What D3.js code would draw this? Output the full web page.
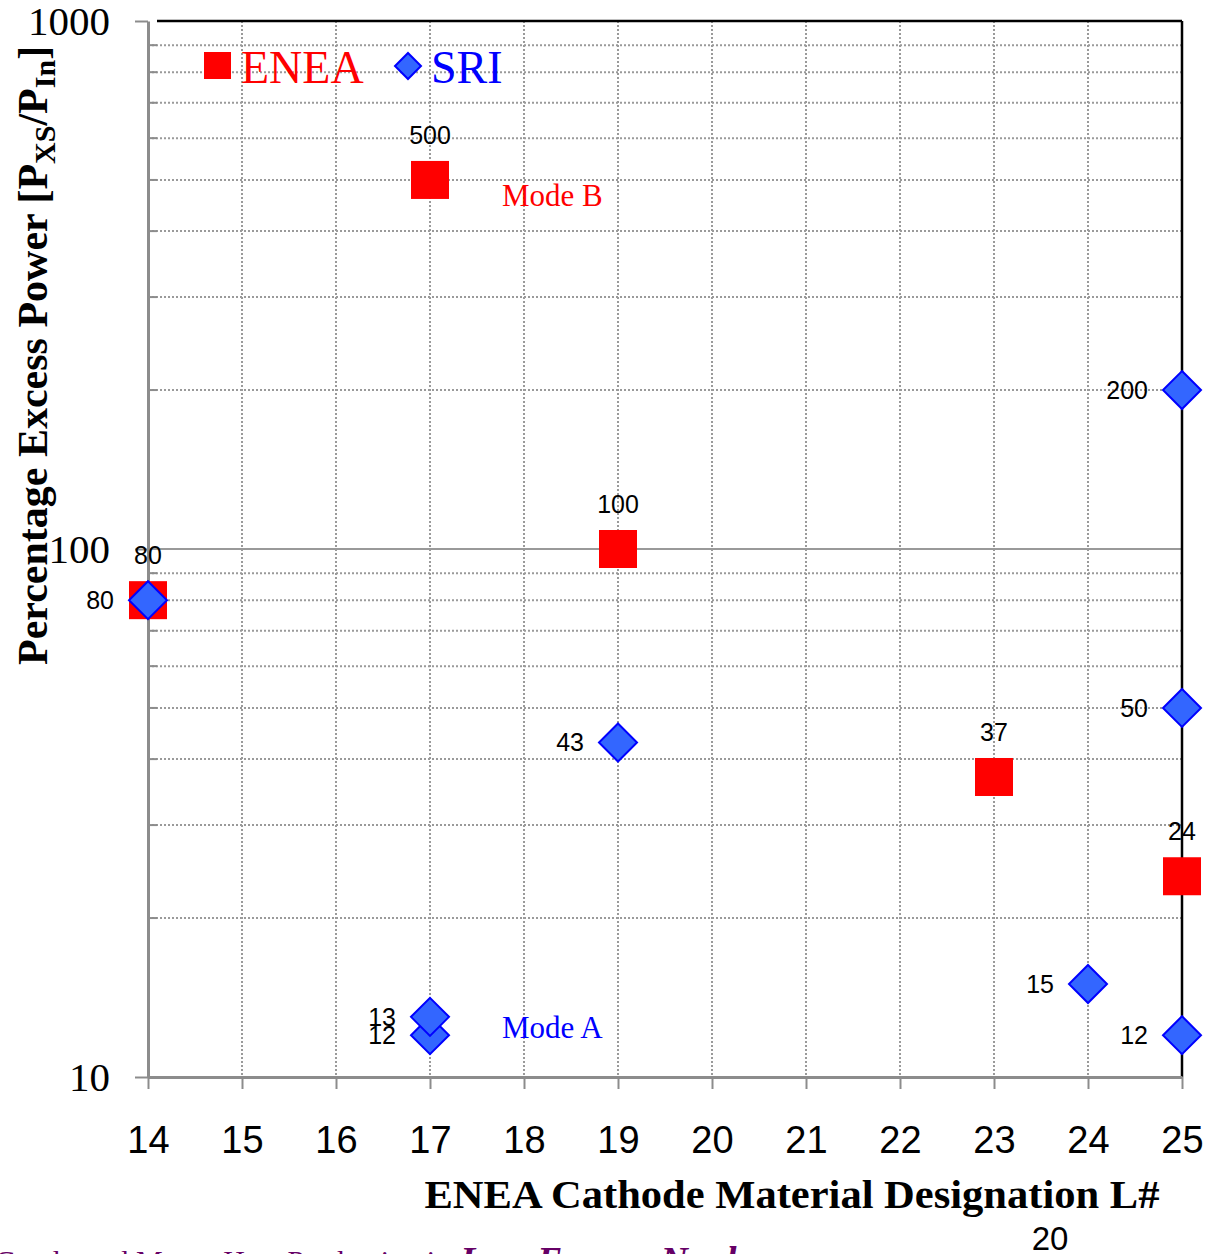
<!DOCTYPE html>
<html>
<head>
<meta charset="utf-8">
<script src="https://cdn.jsdelivr.net/npm/d3@7"></script>
<style>
  html, body { margin: 0; padding: 0; background: #fff; }
  svg { display: block; }
</style>
</head>
<body>
<svg id="chart" width="1209" height="1254"></svg>
<script>
// Cathode designations on the x axis
const xTicks = [14, 15, 16, 17, 18, 19, 20, 21, 22, 23, 24, 25];
const yMajor = [10, 100, 1000];
const yMinor = [20, 30, 40, 50, 60, 70, 80, 90, 200, 300, 400, 500, 600, 700, 800, 900];

// ENEA results (squares)
const eneaL = [14, 17, 19, 23, 25];
const eneaPct = [80, 500, 100, 37, 24];

// SRI results (diamonds)
const sriL = [14, 17, 17, 19, 24, 25, 25, 25];
const sriPct = [80, 12, 13, 43, 15, 12, 50, 200];

const svg = d3.select("#chart");
const plotL = 148, plotR = 1182, plotT = 21, plotB = 1077;

const x = d3.scaleLinear().domain([14, 25]).range([plotL, plotR]);
const y = d3.scaleLog().domain([10, 1000]).range([plotB, plotT]);

const serif = "'Liberation Serif', 'Times New Roman', serif";
const sans = "'Liberation Sans', Arial, sans-serif";

// dotted grid
const grid = svg.append("g");
grid.selectAll("line.vg").data(xTicks.filter(d => d > 14 && d < 25)).join("line")
  .attr("x1", d => x(d)).attr("x2", d => x(d))
  .attr("y1", plotT).attr("y2", plotB)
  .attr("stroke", "#9a9a9a").attr("stroke-width", 2).attr("stroke-dasharray", "2,2");
grid.selectAll("line.hg").data(yMinor).join("line")
  .attr("x1", plotL).attr("x2", plotR)
  .attr("y1", d => y(d)).attr("y2", d => y(d))
  .attr("stroke", "#9a9a9a").attr("stroke-width", 2).attr("stroke-dasharray", "2,2");
// inner minor ticks
svg.append("g").selectAll("line").data(yMinor).join("line")
  .attr("x1", plotL).attr("x2", plotL + 9)
  .attr("y1", d => y(d)).attr("y2", d => y(d))
  .attr("stroke", "#8c8c8c").attr("stroke-width", 2);
// solid line at 100
svg.append("line").attr("x1", plotL).attr("x2", plotR)
  .attr("y1", y(100)).attr("y2", y(100))
  .attr("stroke", "#999").attr("stroke-width", 2);

// frame: black top and right edges
svg.append("line").attr("x1", plotL + 9).attr("x2", plotR)
  .attr("y1", plotT).attr("y2", plotT).attr("stroke", "#000").attr("stroke-width", 2.5);
svg.append("line").attr("x1", plotR).attr("x2", plotR)
  .attr("y1", plotT).attr("y2", plotB).attr("stroke", "#000").attr("stroke-width", 2.5);

// x axis
const xAxis = svg.append("g").attr("transform", `translate(0,${plotB})`)
  .call(d3.axisBottom(x).tickValues(xTicks).tickSize(12).tickPadding(37).tickSizeOuter(0));
xAxis.select(".domain").attr("stroke", "#8c8c8c").attr("stroke-width", 3);
xAxis.selectAll(".tick line").attr("stroke", "#8c8c8c").attr("stroke-width", 2);
xAxis.selectAll(".tick text").attr("font-family", sans).attr("font-size", 38).attr("fill", "#000");

// y axis
const yAxis = svg.append("g").attr("transform", `translate(${plotL},0)`)
  .call(d3.axisLeft(y).tickValues(yMajor).tickFormat(d3.format("d")).tickSize(13).tickPadding(25).tickSizeOuter(0));
yAxis.select(".domain").attr("stroke", "#8c8c8c").attr("stroke-width", 3);
yAxis.selectAll(".tick line").attr("stroke", "#8c8c8c").attr("stroke-width", 2);
yAxis.selectAll(".tick text").attr("font-family", serif).attr("font-size", 41).attr("fill", "#000");

// axis titles
svg.append("text")
  .attr("x", 792).attr("y", 1208)
  .attr("text-anchor", "middle")
  .attr("font-family", serif).attr("font-weight", "bold").attr("font-size", 40)
  .attr("textLength", 735).attr("lengthAdjust", "spacingAndGlyphs")
  .text("ENEA Cathode Material Designation L#");

const yt = svg.append("text")
  .attr("transform", "translate(47,665) rotate(-90)")
  .attr("font-family", serif).attr("font-weight", "bold").attr("font-size", 42);
yt.append("tspan").text("Percentage Excess Power [P");
yt.append("tspan").attr("font-size", 30).attr("dy", 8).text("XS");
yt.append("tspan").attr("dy", -8).text("/P");
yt.append("tspan").attr("font-size", 30).attr("dy", 8).text("In");
yt.append("tspan").attr("dy", -8).text("]");

// ENEA squares
const sq = 38;
svg.append("g").selectAll("rect").data(eneaL).join("rect")
  .attr("x", (d, i) => x(d) - sq / 2)
  .attr("y", (d, i) => y(eneaPct[i]) - sq / 2)
  .attr("width", sq).attr("height", sq)
  .attr("fill", "#ff0000");

// SRI diamonds
const dh = 19;
const diamond = (cx, cy, h) => `M${cx},${cy - h}L${cx + h},${cy}L${cx},${cy + h}L${cx - h},${cy}Z`;
svg.append("g").selectAll("path").data(sriL).join("path")
  .attr("d", (d, i) => diamond(x(d), y(sriPct[i]), dh))
  .attr("fill", "#3366ff").attr("stroke", "#0000ff").attr("stroke-width", 2);

// value labels
svg.append("g").selectAll("text").data(eneaL).join("text")
  .attr("x", d => x(d))
  .attr("y", (d, i) => y(eneaPct[i]) - 45)
  .attr("dy", "0.35em").attr("text-anchor", "middle")
  .attr("font-family", sans).attr("font-size", 25)
  .text((d, i) => eneaPct[i]);
svg.append("g").selectAll("text").data(sriL).join("text")
  .attr("x", d => x(d) - 34)
  .attr("y", (d, i) => y(sriPct[i]))
  .attr("dy", "0.35em").attr("text-anchor", "end")
  .attr("font-family", sans).attr("font-size", 25)
  .text((d, i) => sriPct[i]);

// mode annotations
svg.append("text").attr("x", 502).attr("y", 206)
  .attr("font-family", serif).attr("font-size", 31).attr("fill", "#ff0000").text("Mode B");
svg.append("text").attr("x", 502).attr("y", 1038)
  .attr("font-family", serif).attr("font-size", 31).attr("fill", "#0000ff").text("Mode A");

// legend
svg.append("rect").attr("x", 204).attr("y", 52).attr("width", 27).attr("height", 27).attr("fill", "#ff0000");
svg.append("text").attr("x", 241).attr("y", 83)
  .attr("font-family", serif).attr("font-size", 46).attr("fill", "#ff0000").text("ENEA");
svg.append("path").attr("d", diamond(408, 66, 13))
  .attr("fill", "#3366ff").attr("stroke", "#0000ff").attr("stroke-width", 2);
svg.append("text").attr("x", 431).attr("y", 83)
  .attr("font-family", serif).attr("font-size", 46).attr("fill", "#0000ff").text("SRI");

// page footer
svg.append("text").attr("x", 1050).attr("y", 1250).attr("text-anchor", "middle")
  .attr("font-family", sans).attr("font-size", 33).text("20");
svg.append("text").attr("x", 450).attr("y", 1271).attr("text-anchor", "end")
  .attr("font-family", serif).attr("font-size", 30).attr("fill", "#660066")
  .text("Condensed Matter Heat Production in");
svg.append("text").attr("x", 460).attr("y", 1273)
  .attr("font-family", serif).attr("font-size", 38).attr("font-style", "italic").attr("font-weight", "bold")
  .attr("fill", "#660066").text("Low Energy Nuclear");
</script>
</body>
</html>
